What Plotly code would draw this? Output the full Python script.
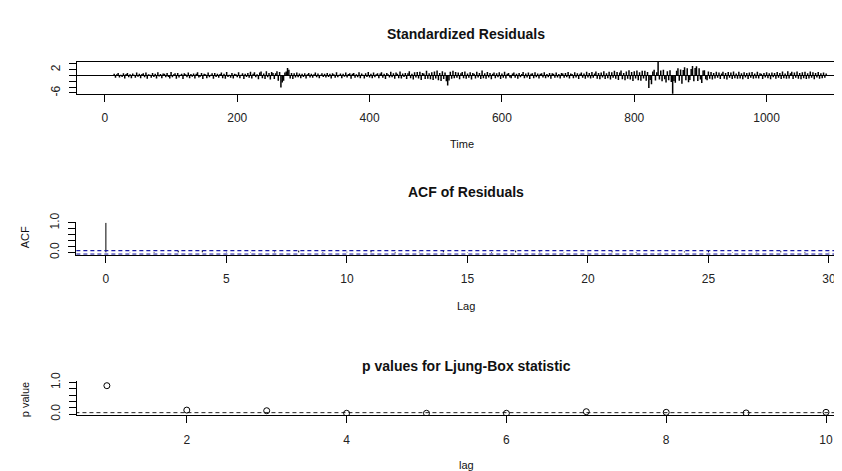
import plotly.graph_objects as go

# ---------------- data ----------------
resid_time = list(range(14, 1091, 2))
resid_values = [
    0.6,-0.8,0.4,0.9,-0.7,0.3,-0.5,0.8,-1.0,0.5,0.9,-0.6,0.4,-0.9,0.7,0.3,-0.8,1.0,-0.4,0.6,
    -0.9,0.5,0.8,-0.6,1.0,-1.1,0.4,0.3,-0.8,0.9,-0.5,0.6,-1.0,1.1,-0.3,0.5,-0.9,0.7,0.6,-0.6,
    0.9,-0.5,-1.0,1.2,-0.6,0.4,0.8,-1.1,0.9,-0.7,0.3,0.6,-1.2,0.8,0.4,-0.6,1.0,-0.9,0.5,-0.4,
    0.7,-1.0,0.6,1.1,-0.7,-0.4,0.9,-1.2,0.6,0.4,-0.9,1.0,-0.6,0.3,0.8,-1.1,0.9,-0.5,0.6,-0.8,
    0.5,1.0,-0.9,0.6,-1.1,1.2,-0.5,0.3,-0.8,0.9,-1.0,0.6,0.4,-0.6,1.1,-0.9,0.3,0.8,-1.2,0.6,
    -0.5,0.9,-0.8,1.3,-1.0,0.6,1.1,-0.6,0.4,-1.3,1.0,1.4,-0.9,0.7,-1.2,1.5,-0.6,0.9,-1.4,1.2,
    0.9,-1.2,0.8,1.5,-1.8,1.2,-4.1,-2.4,-1.8,1.0,1.4,2.6,2.0,-1.0,0.9,-1.2,0.8,-0.7,1.0,-0.6,
    0.7,-0.9,0.6,-0.5,0.8,-1.0,0.4,0.9,-0.7,0.6,-0.8,0.4,1.0,-0.6,0.7,-0.9,0.3,0.8,-0.5,0.6,
    -0.7,0.9,-0.5,0.6,-1.0,0.8,0.4,-0.8,1.1,-0.6,0.3,0.7,-0.9,0.6,-0.4,1.0,-0.7,0.5,0.8,-1.1,
    0.6,0.9,-0.8,0.4,-0.6,1.1,-0.9,0.7,0.3,-1.0,0.8,-0.5,1.2,-0.7,0.6,-0.9,1.0,-0.6,0.4,0.8,
    -0.9,0.7,1.1,-0.8,0.6,-1.2,0.9,0.4,-0.7,1.3,-0.6,0.8,-1.1,1.0,0.6,-0.9,1.4,-1.0,0.7,-0.5,
    0.9,-1.2,0.8,1.5,-0.9,0.6,-1.4,1.1,-0.7,1.2,-1.0,1.3,-1.5,0.9,0.7,-1.2,1.6,-1.1,0.8,-1.3,
    1.1,-1.5,1.4,-1.0,1.7,-1.6,0.9,-1.9,1.5,-1.2,1.0,-2.0,-3.4,-1.7,1.3,-1.1,1.6,-0.9,1.2,-0.8,
    1.0,-1.3,0.8,1.2,-0.9,1.4,-1.1,0.7,-0.8,1.1,-1.4,0.9,0.6,-1.0,1.3,-0.7,0.9,-1.2,1.7,-0.9,
    0.8,-1.1,1.2,-0.7,0.9,-1.3,0.6,1.0,-0.9,0.8,-0.6,1.1,-1.2,0.7,-0.8,1.3,-1.0,0.6,0.9,-0.7,
    -0.9,0.7,1.0,-0.8,0.6,-1.1,0.9,-0.6,0.5,1.2,-0.9,0.7,-0.7,1.0,-1.2,0.6,0.8,-0.9,1.1,-0.6,
    0.7,-1.0,0.6,0.8,-0.7,1.1,-0.9,0.5,-0.6,0.9,-1.1,0.8,0.6,-0.8,1.0,-0.7,0.5,-1.0,0.9,0.7,
    -0.8,0.9,-0.6,1.2,-1.0,0.7,0.5,-0.9,1.1,-0.7,0.8,-1.2,0.6,1.0,-0.8,0.7,-1.1,1.3,-0.7,0.9,
    -1.0,1.2,-0.8,0.7,1.4,-1.1,0.9,-1.3,1.0,-0.7,1.5,-1.2,0.8,-0.9,1.3,-1.4,1.1,-0.8,1.6,-1.1,
    1.2,-1.5,1.0,1.7,-1.3,0.9,-1.6,1.4,-1.1,1.8,-1.4,1.2,-1.9,1.5,-1.0,1.7,-1.6,1.1,-1.8,1.6,
    -1.0,1.6,-1.8,1.2,-4.3,-1.5,-3.0,1.4,2.0,-1.7,1.1,4.7,-1.4,1.7,-2.0,2.0,-1.3,-2.4,1.5,-1.6,
    1.8,-2.2,-6.3,-1.9,-2.5,1.6,2.5,-1.8,2.1,-2.8,1.9,2.8,-1.6,2.5,-2.3,-1.5,2.2,3.3,-2.0,2.6,
    3.2,-1.9,2.5,-1.4,-2.6,1.7,1.8,-1.3,-1.6,1.4,-1.1,1.2,-1.4,0.9,-1.0,1.3,-0.8,1.0,-1.2,0.7,
    1.3,-1.1,0.9,-1.4,1.2,-0.8,1.0,-1.2,1.4,-0.9,0.7,-1.1,1.3,-1.0,0.8,-1.3,1.1,-0.7,0.9,-1.2,
    1.0,-0.8,1.2,-1.1,0.7,-0.9,1.3,-1.0,0.8,0.6,-1.2,0.9,-0.7,1.1,-0.9,0.8,-1.3,1.0,-0.6,0.9,
    -1.1,1.2,-0.8,0.9,-1.2,1.4,-0.9,0.7,-1.1,1.5,-1.0,0.8,1.3,-1.2,1.0,-0.8,1.4,-1.1,0.9,-1.3,
    1.1,-0.9,1.3,-1.2,0.8,-1.0,1.4,-0.8,1.1,-1.3,0.9,-0.7,1.2,-1.1,0.8,-0.9,1.0,-0.8,0.7,
]
resid_xticks = [0, 200, 400, 600, 800, 1000]
resid_yticks = [-6, -4, -2, 0, 2, 4]
resid_yticklabels = ["-6", "", "", "", "2", ""]

acf_lags = list(range(0, 31))
acf_values = [1.0, 0.01, -0.02, 0.05, 0.07, 0.02, -0.01, 0.03, 0.06, -0.02, 0.02,
              0.05, -0.03, 0.02, 0.07, 0.01, -0.02, 0.06, 0.03, -0.01, 0.02,
              0.04, -0.02, 0.01, 0.03, 0.05, -0.01, 0.02, 0.04, -0.02, 0.01]
acf_ci = 0.0597
acf_xticks = [0, 5, 10, 15, 20, 25, 30]
acf_yticks = [0.0, 0.2, 0.4, 0.6, 0.8, 1.0]
acf_yticklabels = ["0.0", "", "", "", "", "1.0"]

lb_lags = list(range(1, 11))
lb_pvalues = [0.90, 0.13, 0.11, 0.03, 0.03, 0.03, 0.08, 0.06, 0.04, 0.06]
lb_level = 0.05
lb_xticks = [2, 4, 6, 8, 10]
lb_yticks = [0.0, 0.2, 0.4, 0.6, 0.8, 1.0]
lb_yticklabels = ["0.0", "", "", "", "", "1.0"]

# ---------------- layout helpers ----------------
W, H = 842, 471
FONT = "Liberation Sans, Arial, sans-serif"


def pxx(x):
    return x / W


def pyy(y):
    return 1 - y / H


def sticks(xv, yv):
    xs, ys = [], []
    for a, b in zip(xv, yv):
        xs += [a, a, None]
        ys += [0, b, None]
    return xs, ys


fig = go.Figure()

# Standardized residuals (type = "h")
sx, sy = sticks(resid_time, resid_values)
fig.add_trace(go.Scatter(x=sx, y=sy, mode="lines", line=dict(color="black", width=1.5),
                         xaxis="x", yaxis="y", hoverinfo="skip", showlegend=False))
fig.add_trace(go.Scatter(x=[-1000, 3000], y=[0, 0], mode="lines",
                         line=dict(color="black", width=1),
                         xaxis="x", yaxis="y", hoverinfo="skip", showlegend=False))

# ACF
ax, ay = sticks(acf_lags, acf_values)
fig.add_trace(go.Scatter(x=ax, y=ay, mode="lines", line=dict(color="black", width=1),
                         xaxis="x2", yaxis="y2", hoverinfo="skip", showlegend=False))
for lv in (acf_ci, -acf_ci):
    fig.add_trace(go.Scatter(x=[-5, 40], y=[lv, lv], mode="lines",
                             line=dict(color="#1a1aa6", width=1.2, dash="4px,3px"),
                             xaxis="x2", yaxis="y2", hoverinfo="skip", showlegend=False))

# Ljung-Box p values
fig.add_trace(go.Scatter(x=[-5, 20], y=[lb_level, lb_level], mode="lines",
                         line=dict(color="#222222", width=1, dash="4px,3px"),
                         xaxis="x3", yaxis="y3", hoverinfo="skip", showlegend=False))
fig.add_trace(go.Scatter(x=lb_lags, y=lb_pvalues, mode="markers",
                         marker=dict(symbol="circle-open", size=6, color="black",
                                     line=dict(width=1, color="black")),
                         xaxis="x3", yaxis="y3", hoverinfo="skip", showlegend=False))

tickfont = dict(family=FONT, size=12, color="#222222")


def xaxis_cfg(domain, rng, ticks, anchor, mirror=False):
    return dict(domain=domain, range=rng, tickmode="array", tickvals=ticks,
                ticktext=[str(t) for t in ticks], showline=True, linecolor="black",
                linewidth=1, mirror=mirror, ticks="outside", ticklen=7, tickcolor="black",
                tickwidth=1, showgrid=False, zeroline=False, tickfont=tickfont,
                ticklabelstandoff=6, anchor=anchor, fixedrange=True)


def yaxis_cfg(domain, rng, ticks, labels, anchor, mirror=False):
    return dict(domain=domain, range=rng, tickmode="array", tickvals=ticks,
                ticktext=labels, showline=True, linecolor="black", linewidth=1,
                mirror=mirror, ticks="outside", ticklen=7, tickcolor="black",
                tickwidth=1, showgrid=False, zeroline=False, tickfont=tickfont,
                tickangle=-90, ticklabelstandoff=4, anchor=anchor, fixedrange=True)


fig.update_layout(
    width=W, height=H,
    margin=dict(l=0, r=0, t=0, b=0),
    paper_bgcolor="white", plot_bgcolor="white",
    font=dict(family=FONT, color="black"),
    xaxis=xaxis_cfg([pxx(69), 1], [-42.3, 1124.5], resid_xticks, "y", mirror=True),
    yaxis=yaxis_cfg([pyy(79.3), pyy(46)], [-6.33, 4.77], resid_yticks, resid_yticklabels,
                    "x", mirror=True),
    xaxis2=xaxis_cfg([pxx(68), 1], [-1.243, 30.83], acf_xticks, "y2"),
    yaxis2=yaxis_cfg([pyy(245), pyy(211)], [-0.08, 1.04], acf_yticks, acf_yticklabels, "x2"),
    xaxis3=xaxis_cfg([pxx(69), 1], [0.625, 10.2875], lb_xticks, "y3"),
    yaxis3=yaxis_cfg([pyy(410.7), pyy(375.4)], [-0.04, 1.04], lb_yticks, lb_yticklabels, "x3"),
)

titles = [
    ("<b>Standardized Residuals</b>", 459, 18, 14, 0),
    ("Time", 455, 131, 11, 0),
    ("<b>ACF of Residuals</b>", 459, 180, 14, 0),
    ("Lag", 459, 298, 11, 0),
    ("<b>p values for Ljung-Box statistic</b>", 459, 360, 14, 0),
    ("lag", 459, 462, 11, 0),
    ("ACF", 17, 227, 11, -90),
    ("p value", 17, 394, 11, -90),
]
for text, x, y, size, ang in titles:
    fig.add_annotation(text=text, x=pxx(x), y=pyy(y), xref="paper", yref="paper",
                       showarrow=False, xanchor="center", yanchor="middle", textangle=ang,
                       font=dict(family=FONT, size=size, color="#111111"))

fig.write_html("out.html")
